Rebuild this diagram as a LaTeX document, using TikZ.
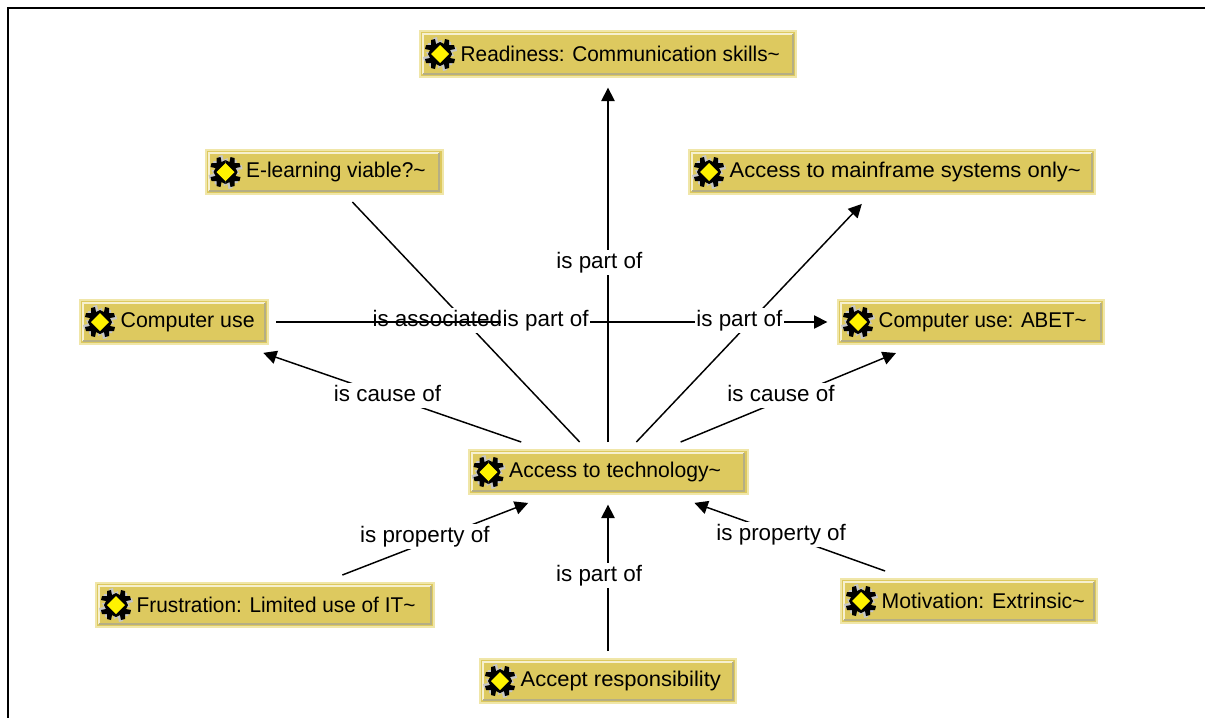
\documentclass[tikz,border=0pt]{standalone}
\usepackage{fontspec}
\setmainfont{Liberation Sans}
\usetikzlibrary{arrows.meta}
\definecolor{boxfill}{HTML}{DDC95F}
\definecolor{boxedge}{HTML}{F0E6A8}
\definecolor{bevellight}{HTML}{F6F0D0}
\definecolor{bevelgrey}{HTML}{B5AE84}
\newlength{\unitpx}
\setlength{\unitpx}{0.75pt}
\tikzset{
  x=0.75pt,y=-0.75pt,
  concept/.style={draw=boxedge,fill=boxfill,line width=1.5pt,inner sep=0pt,minimum height=#1*0.75pt,outer sep=6pt,anchor=center,
    font=\fontsize{16}{18}\selectfont,
    path picture={
      \draw[bevellight,line width=1.5pt] ([shift={(2.6pt,2.6pt)}]path picture bounding box.south west) -- ([shift={(2.6pt,-2.6pt)}]path picture bounding box.north west) -- ([shift={(-2.6pt,-2.6pt)}]path picture bounding box.north east);
      \draw[bevelgrey,line width=1.5pt] ([shift={(2.6pt,2.6pt)}]path picture bounding box.south west) -- ([shift={(-2.6pt,2.6pt)}]path picture bounding box.south east) -- ([shift={(-2.6pt,-2.6pt)}]path picture bounding box.north east);
    }},
  concept/.default=46,
  plainedge/.style={draw=black,line width=1.1pt},
  edge/.style={plainedge,shorten >=2pt,-{Triangle[length=10pt,width=10pt]}},
  lab/.style={fill=white,inner xsep=1pt,inner ysep=1.5pt,font=\fontsize{16.8}{19}\selectfont,text height=12.5pt,text depth=3.5pt},
  ico/.pic={
    \foreach \a in {0,90,180,270}{
      \begin{scope}[rotate=\a,shift={(2,2)}]
        \fill[gray!45] (0,-12) -- (4,-10) -- (5,-15) -- (9,-14) -- (9,-9) -- (14,-9) -- (15,-5) -- (10,-4) -- (12,0) -- (0,0) -- cycle;
      \end{scope}
    }
    \foreach \a in {0,90,180,270}{
      \begin{scope}[rotate=\a]
        \fill[black] (0,-12) -- (4,-10) -- (5,-15) -- (9,-14) -- (9,-9) -- (14,-9) -- (15,-5) -- (10,-4) -- (12,0) -- (0,0) -- cycle;
      \end{scope}
    }
    \fill[yellow] (0,-9) -- (9,0) -- (0,9) -- (-9,0) -- cycle;
  }
}
\newcommand{\conc}[7]{% name, cx, cy, width, height, horizontal text scale, text
  \node[concept=#5,minimum width=#4*0.75pt] (#1) at (#2,#3) {\makebox[#4\unitpx][l]{\hspace{30.5pt}\scalebox{#6}[1]{#7}}};
  \pic at ([xshift=21pt]#1.west) {ico};
}
\begin{document}
\begin{tikzpicture}
\useasboundingbox (0,0) rectangle (1205,718);
\fill[white] (0,0) rectangle (1205,718);
\coordinate (fa) at (1205,8);
\coordinate (fb) at (8,8);
\coordinate (fc) at (8,718);
\draw[black,line width=1.6pt] (fa) -- (fb) -- (fc);

\conc{ready}{608}{54}{376}{46}{0.975}{Readiness: Communication skills\textasciitilde}
\conc{elearn}{324}{172}{237}{44}{0.98}{E-learning viable?\textasciitilde}
\conc{main}{892}{172}{406}{44}{1.03}{Access to mainframe systems only\textasciitilde}
\conc{cuse}{174}{322}{188}{44}{1}{Computer use}
\conc{abet}{971}{322}{266}{44}{0.963}{Computer use: ABET\textasciitilde}
\conc{tech}{608}{472}{279}{44}{0.99}{Access to technology\textasciitilde}
\conc{frust}{265}{605}{338}{44}{0.975}{Frustration: Limited use of IT\textasciitilde}
\conc{motiv}{969}{601}{256}{44}{0.995}{Motivation: Extrinsic\textasciitilde}
\conc{accept}{608}{681}{256}{44}{1.03}{Accept responsibility}

\draw[plainedge] (tech) -- node[lab,xshift=-21.5pt,yshift=1pt] (l1) {is associated} (elearn);
\draw[edge] (cuse) -- node[lab,xshift=-5.5pt,yshift=1pt] (l2) {is part of} (abet);
\draw[edge] (tech) -- node[lab,xshift=-6.5pt,yshift=1pt] (l3) {is part of} (ready);
\draw[edge] (tech) -- node[lab,xshift=-8pt,yshift=1pt] (l4) {is part of} (main);
\draw[edge] (tech) -- node[lab,xshift=-2.6pt,yshift=1pt] (l5) {is cause of} (cuse);
\draw[edge] (tech) -- node[lab,xshift=-6.4pt,yshift=1pt] (l6) {is cause of} (abet);
\draw[edge] (frust) -- node[lab,xshift=-8.7pt,yshift=1.5pt] (l7) {is property of} (tech);
\draw[edge] (accept) -- node[lab,xshift=-6.7pt,yshift=1pt] (l8) {is part of} (tech);
\draw[edge] (motiv) -- node[lab,xshift=-5.5pt,yshift=1.5pt] (l9) {is property of} (tech);
\end{tikzpicture}
\end{document}
